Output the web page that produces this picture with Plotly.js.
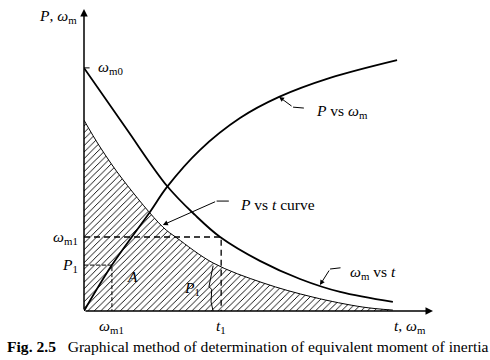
<!DOCTYPE html>
<html><head><meta charset="utf-8">
<script src="https://cdn.plot.ly/plotly-3.0.1.min.js"></script>
<style>html,body{margin:0;padding:0;background:#fff}#c{width:490px;height:360px}</style>
</head><body><div id="c"></div>
<script>
// omega_m vs t curve
const wmT = [0, 12.0, 23.8, 31.8, 39.0, 50.4, 61.9, 73.4, 88.5];
const wmV = [80.5, 60.6, 41.4, 31.8, 24.5, 16.6, 10.6, 6.3, 3.0];
// P vs t curve (hatched area)
const pT = [0, 4.6, 11.2, 22.6, 26.6, 37.0, 51.3, 65.6, 79.9, 88.5];
const pV = [63.2, 54.3, 43.4, 27.8, 24.2, 15.9, 9.3, 4.6, 1.3, 0.3];
// P vs omega_m curve
const pwX = [0, 8.0, 18.9, 23.8, 33.2, 44.7, 55.9, 70.5, 89.7];
const pwY = [0, 15.2, 32.8, 41.1, 53.3, 63.9, 70.9, 77.2, 83.1];
// marked levels
const wm1Level = 24.5, t1Pos = 39.3, p1Level = 15.2, wm1Pos = 8.0, p1BracePos = 37.0;
const axisEnd = 100;

const F = 'Liberation Serif, Times New Roman, serif';
const traces = [
  {x: pT, y: pV, mode: 'lines', line: {color: 'black', width: 1, shape: 'spline'},
   fill: 'tozeroy', fillcolor: 'white',
   fillpattern: {shape: '/', size: 4.6, solidity: 0.2, fgcolor: 'black', bgcolor: 'white'}},
  {x: wmT, y: wmV, mode: 'lines', line: {color: 'black', width: 1.8, shape: 'spline'}},
  {x: pwX, y: pwY, mode: 'lines', line: {color: 'black', width: 1.8, shape: 'spline'}},
  {x: [0, t1Pos, t1Pos], y: [wm1Level, wm1Level, 0], mode: 'lines', line: {color: 'black', width: 1.3, dash: '6px,4px'}},
  {x: [0, wm1Pos, wm1Pos], y: [p1Level, p1Level, 0], mode: 'lines', line: {color: 'black', width: 1, dash: '4px,2px'}},
  {x: [p1BracePos, p1BracePos - 0.6, p1BracePos - 1.2, p1BracePos - 0.4, p1BracePos - 0.6, p1BracePos],
   y: [15, 11, 8, 7.2, 3, 0], mode: 'lines', line: {color: 'black', width: 1}}
];
const arr = (x, y, ax, ay) => ({x, y, ax, ay, xref: 'x', yref: 'y', axref: 'x', ayref: 'y', text: '',
  showarrow: true, arrowhead: 2, arrowsize: 1, arrowwidth: 1, arrowcolor: 'black'});
// text positions given in the same 0-100 frame as the axes, placed via paper refs so they show outside the plot area
const txt = (x, y, text, size, extra) => Object.assign({x: x / 100, y: y / 100, xref: 'paper', yref: 'paper', text, showarrow: false,
  xanchor: 'center', yanchor: 'middle',
  font: {family: F, size: size || 15.5, color: 'black'}}, extra || {});
const annotations = [
  Object.assign(arr(axisEnd, 0, 0, 0), {arrowwidth: 1.5}),
  Object.assign(arr(0, axisEnd, 0, 0), {arrowwidth: 1.5}),
  arr(22.6, 28.5, 38.0, 36.4),
  arr(55.9, 70.9, 59.9, 67.5),
  arr(67.6, 8.6, 70.5, 13.9),
  txt(-1.5, 97.5, '<i>P</i>, <i>ω</i><sub>m</sub>', 15.5, {xanchor: 'right'}),
  txt(3.5, 80.5, '<i>ω</i><sub>m0</sub>', 15.5, {xanchor: 'left'}),
  txt(-1.2, 24.5, '<i>ω</i><sub>m1</sub>', 15.5, {xanchor: 'right'}),
  txt(-1.2, 15.2, '<i>P</i><sub>1</sub>', 15.5, {xanchor: 'right'}),
  txt(13.8, 11.3, '<i>A</i>', 15.5),
  txt(30.9, 7.6, '<i>P</i><sub>1</sub>', 15.5),
  txt(8.0, -5, '<i>ω</i><sub>m1</sub>', 15.5),
  txt(39.3, -5, '<i>t</i><sub>1</sub>', 15.5),
  txt(93.5, -5, '<i>t</i>, <i>ω</i><sub>m</sub>', 15.5),
  txt(44.1, 35.1, '<i>P</i> vs <i>t</i> curve', 15.5, {xanchor: 'left'}),
  txt(65.9, 65.9, '<i>P</i> vs <i>ω</i><sub>m</sub>', 15.5, {xanchor: 'left'}),
  txt(75.6, 12.9, '<i>ω</i><sub>m</sub> vs <i>t</i>', 15.5, {xanchor: 'left'}),
  {xref: 'paper', yref: 'paper', x: 0.47, y: -0.119, xanchor: 'center', yanchor: 'middle', showarrow: false,
   text: '<b>Fig. 2.5</b>   Graphical method of determination of equivalent moment of inertia',
   font: {family: F, size: 15.6, color: 'black'}}
];
const shapes = [
  {type: 'line', xref: 'x', yref: 'y', x0: 38.0, y0: 36.4, x1: 41.5, y1: 36.4, line: {color: 'black', width: 1}},
  {type: 'line', xref: 'x', yref: 'y', x0: 59.9, y0: 67.5, x1: 63.0, y1: 67.2, line: {color: 'black', width: 1}},
  {type: 'line', xref: 'x', yref: 'y', x0: 70.5, y0: 13.9, x1: 73.5, y1: 14.3, line: {color: 'black', width: 1}},
  {type: 'line', xref: 'x', yref: 'y', x0: 0, y0: 80.5, x1: 1.6, y1: 80.5, line: {color: 'black', width: 1}}
];
const layout = {
  width: 490, height: 360, margin: {l: 84, r: 57, t: 9, b: 49},
  paper_bgcolor: 'white', plot_bgcolor: 'white', showlegend: false,
  xaxis: {range: [0, 100], showgrid: false, zeroline: false, showticklabels: false, ticks: '', showline: false},
  yaxis: {range: [0, 100], showgrid: false, zeroline: false, showticklabels: false, ticks: '', showline: false},
  annotations, shapes
};
Plotly.newPlot('c', traces, layout, {staticPlot: true, displayModeBar: false});
</script></body></html>
